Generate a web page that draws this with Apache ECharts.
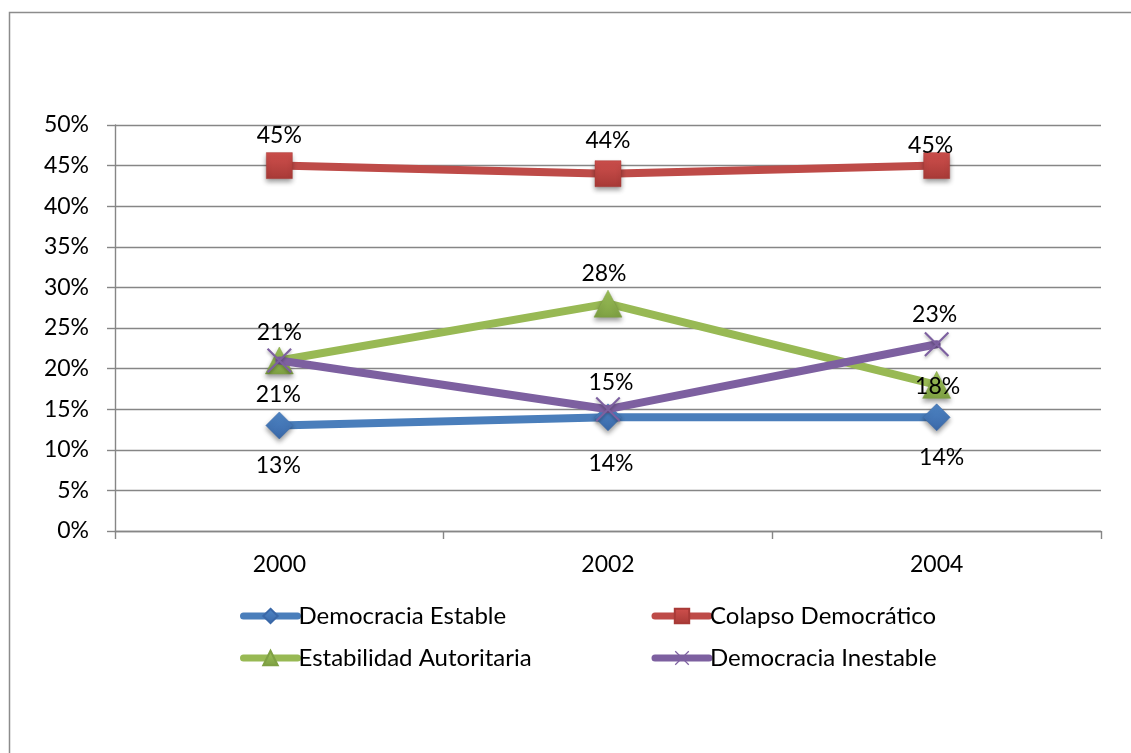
<!DOCTYPE html>
<html>
<head>
<meta charset="utf-8">
<script src="https://cdn.jsdelivr.net/npm/echarts@6/dist/echarts.min.js"></script>
<style>
  html, body { margin: 0; padding: 0; background: #fff; }
  #chart { width: 1131px; height: 753px; }
</style>
</head>
<body>
<div id="chart"></div>
<script>
// ---- data ----
const categories = ['2000', '2002', '2004'];
const seriesNames = ['Democracia Estable', 'Colapso Democrático', 'Estabilidad Autoritaria', 'Democracia Inestable'];
const democraciaEstable = [13, 14, 14];
const colapsoDemocratico = [45, 44, 45];
const estabilidadAutoritaria = [21, 28, 18];
const democraciaInestable = [21, 15, 23];
const yTicks = { min: 0, max: 50, interval: 5 };

// ---- styling (positions of labels relative to their point) ----
const labelOffsets = [
  [[-1, 40], [3, 46], [5, 40]],
  [[0, -30], [0, -33], [-6, -20]],
  [[-1, 34], [-4, -30], [1, 2]],
  [[0, -28], [3, -27], [-2, -30]]
];
const lineColors = ['#4A7EBB', '#BE4B48', '#98B954', '#7D60A0'];
const markerTop = ['#4F86C6', '#D0504D', '#9FC35A', '#8A6BAE'];
const markerBottom = ['#3A68A8', '#A83A37', '#7EA043', '#6A4E8E'];
const symbols = ['diamond', 'rect', 'triangle',
  'path://M0,6L6,0L100,94L94,100Z M94,0L100,6L6,100L0,94Z'];
const symbolSizes = [[27, 27], [26, 26], [28, 27], [25, 25]];
const FONT = 'Lato';
const GRAY = '#868686';

const allValues = [democraciaEstable, colapsoDemocratico, estabilidadAutoritaria, democraciaInestable];

const series = allValues.map((vals, si) => ({
  name: seriesNames[si],
  type: 'line',
  data: vals.map((v, i) => ({
    value: v,
    label: { offset: labelOffsets[si][i] }
  })),
  symbol: symbols[si],
  symbolSize: symbolSizes[si],
  symbolKeepAspect: true,
  z: 2 + si,
  lineStyle: { color: lineColors[si], width: 8, cap: 'round', join: 'round' },
  itemStyle: si === 3 ? {
    color: lineColors[si],
    shadowColor: 'rgba(0,0,0,0.3)', shadowBlur: 3, shadowOffsetY: 2
  } : {
    color: {
      type: 'linear', x: 0, y: 0, x2: 0, y2: 1,
      colorStops: [{ offset: 0, color: markerTop[si] }, { offset: 1, color: markerBottom[si] }]
    },
    borderColor: markerBottom[si], borderWidth: 0.5,
    shadowColor: 'rgba(0,0,0,0.4)', shadowBlur: 5, shadowOffsetY: 3
  },
  label: {
    show: true,
    position: 'inside',
    formatter: '{c}%',
    color: '#000',
    fontFamily: FONT,
    fontSize: 23
  },
  emphasis: { disabled: true },
  animation: false
}));

const legendPos = [
  { left: 240, top: 604 },
  { left: 651.5, top: 604 },
  { left: 240, top: 646 },
  { left: 651.5, top: 646 }
];

const legends = seriesNames.map((n, i) => ({
  data: [n],
  left: legendPos[i].left,
  top: legendPos[i].top,
  itemWidth: 54,
  itemHeight: 18,
  itemGap: 0,
  selectedMode: false,
  padding: 0,
  lineStyle: { width: 7, cap: 'round', color: lineColors[i] },
  textStyle: { fontFamily: FONT, fontSize: 24, color: '#000', padding: [0, 0, 0, -4] }
}));

const chart = echarts.init(document.getElementById('chart'), null, { renderer: 'canvas' });
chart.setOption({
  animation: false,
  backgroundColor: '#fff',
  graphic: [{
    type: 'rect',
    shape: { x: 9.5, y: 12.5, width: 1200, height: 800 },
    style: { fill: 'none', stroke: '#8C8C8C', lineWidth: 1.5 },
    silent: true
  }],
  grid: { left: 115, right: 30, top: 125, bottom: 222, containLabel: false },
  legend: legends,
  xAxis: {
    type: 'category',
    data: categories,
    boundaryGap: true,
    axisLine: { lineStyle: { color: GRAY, width: 1.4 } },
    axisTick: { show: true, length: 8, lineStyle: { color: GRAY, width: 1.4 } },
    axisLabel: { color: '#000', fontFamily: FONT, fontSize: 23, margin: 22 }
  },
  yAxis: {
    type: 'value',
    min: yTicks.min,
    max: yTicks.max,
    interval: yTicks.interval,
    axisLine: { show: true, lineStyle: { color: GRAY, width: 1.4 } },
    axisTick: { show: true, length: 8, lineStyle: { color: GRAY, width: 1.4 } },
    splitLine: { show: true, lineStyle: { color: GRAY, width: 1.4 } },
    axisLabel: { color: '#000', fontFamily: FONT, fontSize: 23, margin: 26, formatter: '{value}%' }
  },
  series: series
});
</script>
</body>
</html>
